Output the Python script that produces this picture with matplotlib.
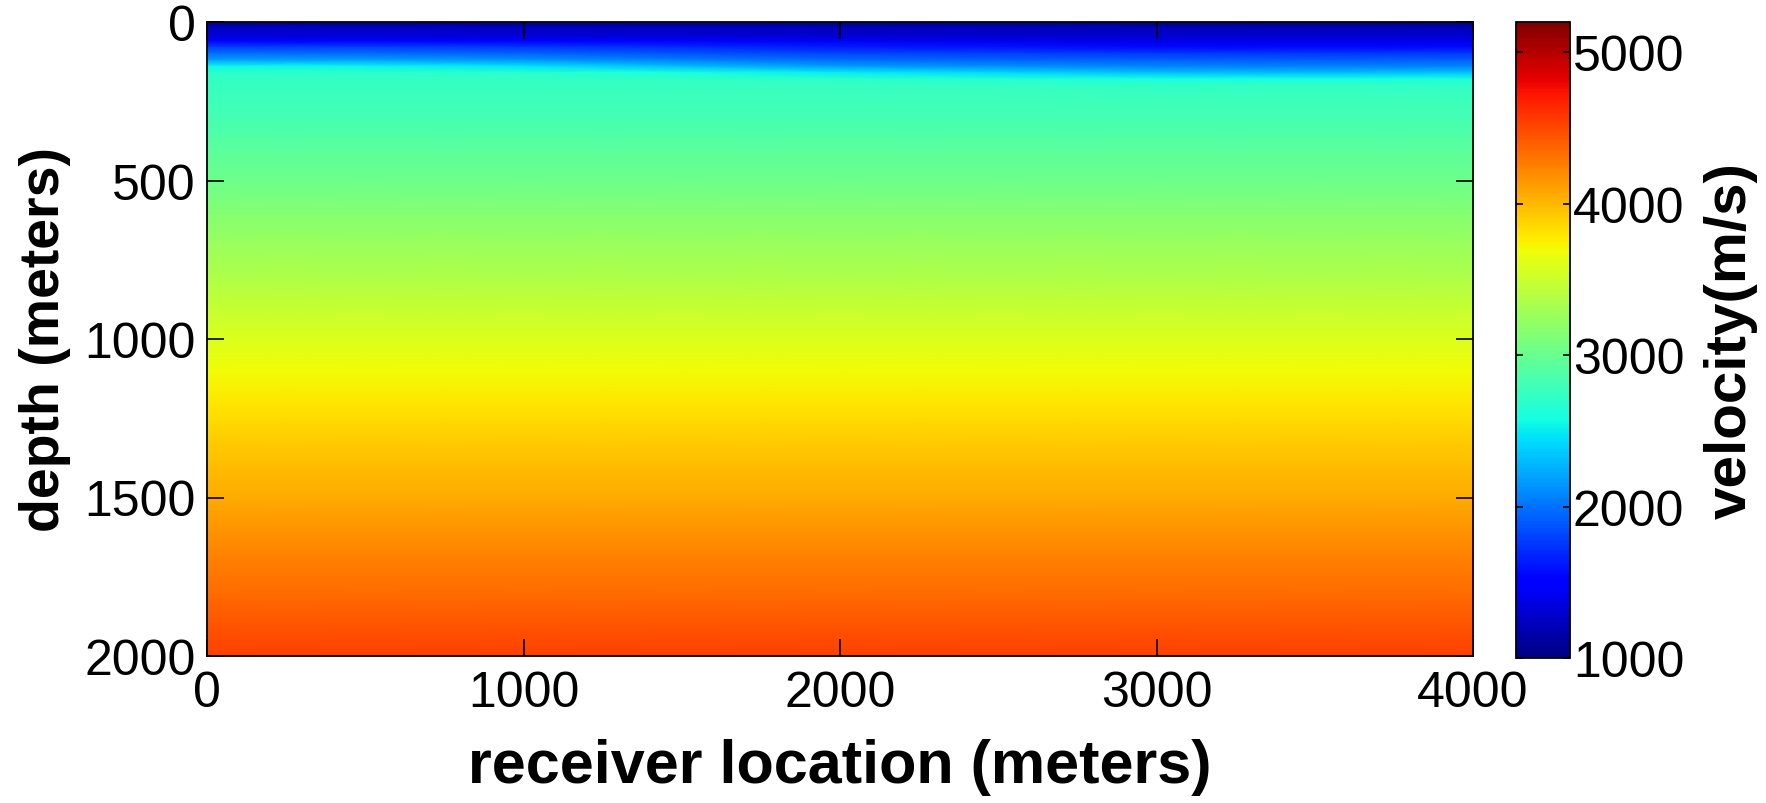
import numpy as np
import matplotlib
matplotlib.use("Agg")
import matplotlib.pyplot as plt

plt.rcParams['font.family'] = ['Liberation Sans', 'DejaVu Sans']

# ---- data ----
x_nodes = [0, 500, 1000, 1500, 2000, 2500, 3000, 3500, 4000]          # receiver location (m)
top_depths = [0, 20, 40, 60, 80, 100, 120, 140, 160, 180, 200, 220, 250]  # depth (m), shallow part
# velocity (m/s) of the shallow part, one list per x node (depth order as top_depths)
top_velocity = [
    [1030, 1270, 1320, 1540, 1790, 1990, 2190, 2550, 2700, 2730, 2750, 2760, 2780],
    [1030, 1270, 1320, 1540, 1790, 1980, 2190, 2540, 2700, 2730, 2750, 2760, 2780],
    [1030, 1260, 1310, 1520, 1770, 1950, 2140, 2470, 2680, 2730, 2750, 2760, 2780],
    [1030, 1250, 1300, 1470, 1710, 1880, 2050, 2300, 2600, 2710, 2740, 2760, 2780],
    [1020, 1240, 1290, 1440, 1650, 1820, 1980, 2180, 2500, 2690, 2740, 2760, 2780],
    [1020, 1230, 1290, 1410, 1610, 1790, 1940, 2130, 2420, 2650, 2730, 2760, 2780],
    [1020, 1220, 1280, 1390, 1570, 1770, 1920, 2080, 2320, 2600, 2720, 2750, 2780],
    [1020, 1220, 1280, 1390, 1560, 1760, 1910, 2060, 2300, 2580, 2720, 2750, 2780],
    [1020, 1220, 1280, 1390, 1570, 1770, 1920, 2080, 2340, 2610, 2720, 2750, 2780],
]
deep_depths = [300, 400, 500, 600, 700, 800, 900, 1000, 1100, 1200, 1300,
               1400, 1500, 1600, 1700, 1800, 1900, 2000]
deep_velocity = [2820, 2930, 3020, 3140, 3250, 3360, 3470, 3590, 3700, 3800,
                 3890, 3970, 4060, 4150, 4250, 4340, 4440, 4540]

x_ticks = [0, 1000, 2000, 3000, 4000]
y_ticks = [0, 500, 1000, 1500, 2000]
cbar_ticks = [1000, 2000, 3000, 4000, 5000]
vmin, vmax = 1000, 5200

# ---- build field ----
depths = np.array(top_depths + deep_depths, dtype=float)
top_block = np.array(top_velocity, dtype=float).T
deep_block = np.tile(np.array(deep_velocity, dtype=float)[:, None], (1, len(x_nodes)))
C = np.vstack([top_block, deep_block])
X, Y = np.meshgrid(np.array(x_nodes, dtype=float), depths)

W, H = 1766, 804
fig = plt.figure(figsize=(W / 100, H / 100), dpi=100)
ax = fig.add_axes([207 / W, 1 - 657 / H, (1473 - 207) / W, (657 - 23) / H])
cax = fig.add_axes([1516 / W, 1 - 659 / H, (1570 - 1516) / W, (659 - 23) / H])

mesh = ax.pcolormesh(X, Y, C, shading='gouraud', cmap='jet', vmin=vmin, vmax=vmax,
                     rasterized=True)
ax.set_xlim(0, 4000)
ax.set_ylim(2000, 0)
ax.set_xticks(x_ticks)
ax.set_yticks(y_ticks)
ax.tick_params(direction='in', top=True, right=True, length=12, width=1.2,
               labelsize=36, pad=10)
ax.tick_params(axis='y', pad=8)
for s in ax.spines.values():
    s.set_linewidth(1.3)

ax.set_xlabel('receiver location (meters)', fontsize=44, fontweight='bold', labelpad=16)
ax.set_ylabel('depth (meters)', fontsize=40, fontweight='bold', labelpad=10)

cb = fig.colorbar(mesh, cax=cax, ticks=cbar_ticks)
cb.outline.set_linewidth(1.3)
cax.tick_params(direction='in', left=True, right=True, length=5, width=1.2,
                labelsize=36, pad=2)
cb.set_label('velocity(m/s)', fontsize=42, fontweight='bold', labelpad=14)

fig.savefig('out.png', dpi=100)
